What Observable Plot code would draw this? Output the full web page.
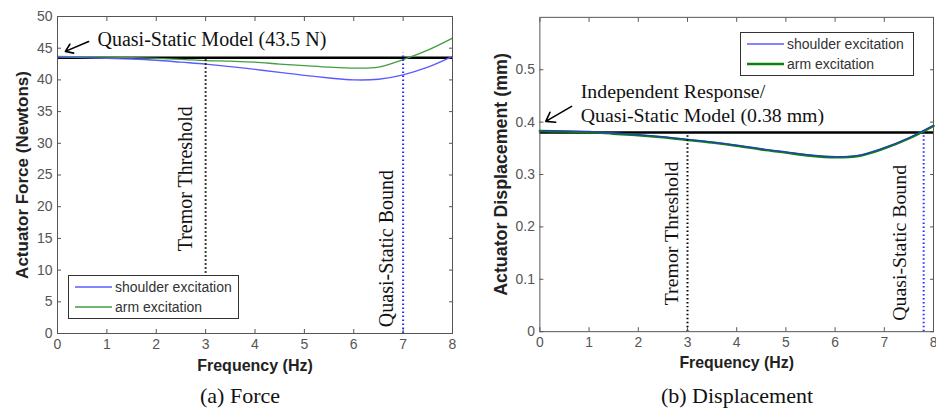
<!DOCTYPE html>
<html>
<head>
<meta charset="utf-8">
<script src="https://cdn.jsdelivr.net/npm/d3@7"></script>
<script src="https://cdn.jsdelivr.net/npm/@observablehq/plot@0.6"></script>
<style>
  body { margin: 0; background: #fff; }
  #fig { position: relative; width: 936px; height: 409px; overflow: hidden; background: #fff; }
  .panel { position: absolute; top: 0; }
  .caption { position: absolute; top: 383px; font-family: "Liberation Serif", "Times New Roman", serif; font-size: 22px; color: #111; transform: translateX(-50%); white-space: nowrap; }
  .legend { position: absolute; box-sizing: border-box; border: 1px solid #333; background: #fff; font-family: "Liberation Sans", Arial, sans-serif; font-size: 14px; color: #333; }
  .legend .row { display: flex; align-items: center; height: 20px; }
  .legend svg { margin-right: 3px; }
</style>
</head>
<body>
<div id="fig">
  <div id="force" class="panel" style="left:0px"></div>
  <div id="disp" class="panel" style="left:466px"></div>
  <div class="caption" style="left:240px">(a) Force</div>
  <div class="caption" style="left:737px">(b) Displacement</div>
</div>
<script>
// Frequency samples (Hz)
const freq = [0, 0.5, 1, 1.5, 2, 2.5, 3, 3.5, 4, 4.5, 5, 5.5, 6, 6.5, 7, 7.5, 8];

// Actuator force (N)
const forceShoulder = [43.6, 43.5, 43.4, 43.3, 43.1, 42.8, 42.5, 42.1, 41.65, 41.2, 40.7, 40.3, 40.0, 40.1, 40.8, 42.0, 43.7];
const forceArm      = [43.7, 43.65, 43.6, 43.5, 43.4, 43.25, 43.05, 42.95, 42.8, 42.5, 42.25, 42.0, 41.85, 42.0, 43.2, 44.7, 46.6];

// Actuator displacement (mm)
const dispShoulder = [0.384, 0.383, 0.382, 0.379, 0.376, 0.372, 0.367, 0.362, 0.356, 0.349, 0.343, 0.337, 0.334, 0.337, 0.351, 0.370, 0.394];
const dispArm      = [0.383, 0.382, 0.381, 0.378, 0.375, 0.371, 0.366, 0.361, 0.355, 0.348, 0.342, 0.336, 0.333, 0.336, 0.350, 0.369, 0.393];

// Axis ticks
const freqTicks = [0, 1, 2, 3, 4, 5, 6, 7, 8];
const forceTicks = [0, 5, 10, 15, 20, 25, 30, 35, 40, 45, 50];
const dispTicks = [0, 0.1, 0.2, 0.3, 0.4, 0.5];

// Reference levels and bounds
const forceModel = 43.5;      // quasi-static force (N)
const dispModel = 0.38;       // quasi-static displacement (mm)
const tremorThreshold = 3;    // Hz
const forceBound = 7;         // Hz
const dispBound = 7.8;        // Hz
const forceTremorLow = 9.5;   // lower end of the threshold marker (N)
const forceBoundTop = 44.2;   // upper end of the bound marker (N)

// Labels
const seriesNames = ["shoulder excitation", "arm excitation"];

const sans = "'Liberation Sans', Arial, sans-serif";
const serif = "'Liberation Serif', 'Times New Roman', serif";
const blue = "#5b5bff";
const blueStrong = "#2a2aff";
const greenLight = "#3f9f3f";
const greenDark = "#0c7f0c";

const toRows = (ys) => freq.map((f, i) => ({f, v: ys[i]}));

function frameMarks(xTicks, yTicks, yFormat) {
  return [
    Plot.frame({stroke: "#555", strokeWidth: 1}),
    Plot.axisX(xTicks, {anchor: "bottom", tickSize: -4, tickPadding: 10, label: null, stroke: "#555", fill: "#555"}),
    Plot.axisX(xTicks, {anchor: "top", tickSize: -4, tickFormat: () => "", label: null, stroke: "#555"}),
    Plot.axisY(yTicks, {anchor: "left", tickSize: -4, tickPadding: 9, label: null, tickFormat: yFormat, stroke: "#555", fill: "#555"}),
    Plot.axisY(yTicks, {anchor: "right", tickSize: -4, tickFormat: () => "", label: null, stroke: "#555"})
  ];
}

function axisTitles(ylabel, dxY, ySize) {
  return [
    Plot.text(["Frequency (Hz)"], {frameAnchor: "bottom", dy: 32, lineAnchor: "middle", textAnchor: "middle", text: d => d, fontFamily: sans, fontWeight: "bold", fontSize: 16, fill: "#222"}),
    Plot.text([ylabel], {frameAnchor: "left", dx: dxY, rotate: -90, lineAnchor: "middle", textAnchor: "middle", text: d => d, fontFamily: sans, fontWeight: "bold", fontSize: ySize, fill: "#222"})
  ];
}

// (a) Force
const forcePlot = Plot.plot({
  width: 466,
  height: 380,
  marginLeft: 57,
  marginRight: 14,
  marginTop: 16,
  marginBottom: 47,
  style: {fontFamily: sans, fontSize: "14px", background: "transparent"},
  x: {domain: [0, 8]},
  y: {domain: [0, 50]},
  marks: [
    Plot.ruleY([forceModel], {stroke: "#000", strokeWidth: 2.5}),
    Plot.line(toRows(forceArm), {x: "f", y: "v", stroke: greenLight, strokeWidth: 1.3, curve: "catmull-rom"}),
    Plot.line(toRows(forceShoulder), {x: "f", y: "v", stroke: blue, strokeWidth: 1.3, curve: "catmull-rom"}),
    Plot.ruleX([tremorThreshold], {y1: forceTremorLow, y2: forceModel, stroke: "#000", strokeWidth: 2, strokeDasharray: "1.5,2.5"}),
    Plot.ruleX([forceBound], {y1: 0, y2: forceBoundTop, stroke: blueStrong, strokeWidth: 2, strokeDasharray: "1.5,2.5"}),
    Plot.text(["Tremor Threshold"], {x: tremorThreshold, y: 24.4, dx: -20, rotate: -90, text: d => d, fontFamily: serif, fontSize: 20, fill: "#111"}),
    Plot.text(["Quasi-Static Bound"], {x: forceBound, y: 13.4, dx: -17, rotate: -90, text: d => d, fontFamily: serif, fontSize: 20, fill: "#111"}),
    Plot.text(["Quasi-Static Model (43.5 N)"], {x: 0.81, y: 46.4, textAnchor: "start", text: d => d, fontFamily: serif, fontSize: 20, fill: "#111"}),
    Plot.arrow([{x1: 0.63, y1: 46.05, x2: 0.16, y2: 44.5}], {x1: "x1", y1: "y1", x2: "x2", y2: "y2", stroke: "#000", strokeWidth: 1.6, headLength: 11, headAngle: 70}),
    ...frameMarks(freqTicks, forceTicks, d => d),
    ...axisTitles("Actuator Force (Newtons)", -35, 17)
  ]
});
document.getElementById("force").append(forcePlot);

// (b) Displacement
const dispPlot = Plot.plot({
  width: 474,
  height: 380,
  marginLeft: 74,
  marginRight: 3,
  marginTop: 17,
  marginBottom: 46,
  style: {fontFamily: sans, fontSize: "14px", background: "transparent"},
  x: {domain: [0, 8]},
  y: {domain: [0, 0.6]},
  marks: [
    Plot.ruleY([dispModel], {stroke: "#000", strokeWidth: 2.5}),
    Plot.line(toRows(dispArm), {x: "f", y: "v", stroke: greenDark, strokeWidth: 2.6, curve: "catmull-rom"}),
    Plot.line(toRows(dispShoulder), {x: "f", y: "v", stroke: blueStrong, strokeWidth: 1, curve: "catmull-rom"}),
    Plot.ruleX([tremorThreshold], {y1: 0, y2: dispModel, stroke: "#000", strokeWidth: 2, strokeDasharray: "1.5,2.5"}),
    Plot.ruleX([dispBound], {y1: 0, y2: dispModel, stroke: blueStrong, strokeWidth: 2, strokeDasharray: "1.5,2.5"}),
    Plot.text(["Tremor Threshold"], {x: tremorThreshold, y: 0.1875, dx: -16, rotate: -90, text: d => d, fontFamily: serif, fontSize: 20, fill: "#111"}),
    Plot.text(["Quasi-Static Bound"], {x: dispBound, y: 0.1695, dx: -24, rotate: -90, text: d => d, fontFamily: serif, fontSize: 20, fill: "#111"}),
    Plot.text(["Independent Response/"], {x: 0.83, y: 0.458, textAnchor: "start", text: d => d, fontFamily: serif, fontSize: 20, fill: "#111"}),
    Plot.text(["Quasi-Static Model (0.38 mm)"], {x: 0.83, y: 0.413, textAnchor: "start", text: d => d, fontFamily: serif, fontSize: 20, fill: "#111"}),
    Plot.arrow([{x1: 0.645, y1: 0.43, x2: 0.12, y2: 0.4015}], {x1: "x1", y1: "y1", x2: "x2", y2: "y2", stroke: "#000", strokeWidth: 1.6, headLength: 11, headAngle: 70}),
    ...frameMarks(freqTicks, dispTicks, d => d === 0 ? "0" : d3.format(".1f")(d)),
    ...axisTitles("Actuator Displacement (mm)", -39, 18)
  ]
});
document.getElementById("disp").append(dispPlot);

// Legends
function legend(left, top, width, styles) {
  const box = document.createElement("div");
  box.className = "legend";
  Object.assign(box.style, {left: left + "px", top: top + "px", width: width + "px", padding: "1px 6px"});
  seriesNames.forEach((name, i) => {
    const row = document.createElement("div");
    row.className = "row";
    const sw = d3.create("svg").attr("width", 37).attr("height", 10);
    sw.append("line").attr("x1", 0).attr("x2", 37).attr("y1", 5).attr("y2", 5)
      .attr("stroke", styles[i].color).attr("stroke-width", styles[i].width);
    row.append(sw.node());
    const label = document.createElement("span");
    label.textContent = name;
    row.append(label);
    box.append(row);
  });
  document.getElementById("fig").append(box);
}
legend(68, 275, 171, [{color: blue, width: 1.3}, {color: greenLight, width: 1.3}]);
legend(740, 32, 174, [{color: blue, width: 1.3}, {color: greenDark, width: 2.6}]);
</script>
</body>
</html>
